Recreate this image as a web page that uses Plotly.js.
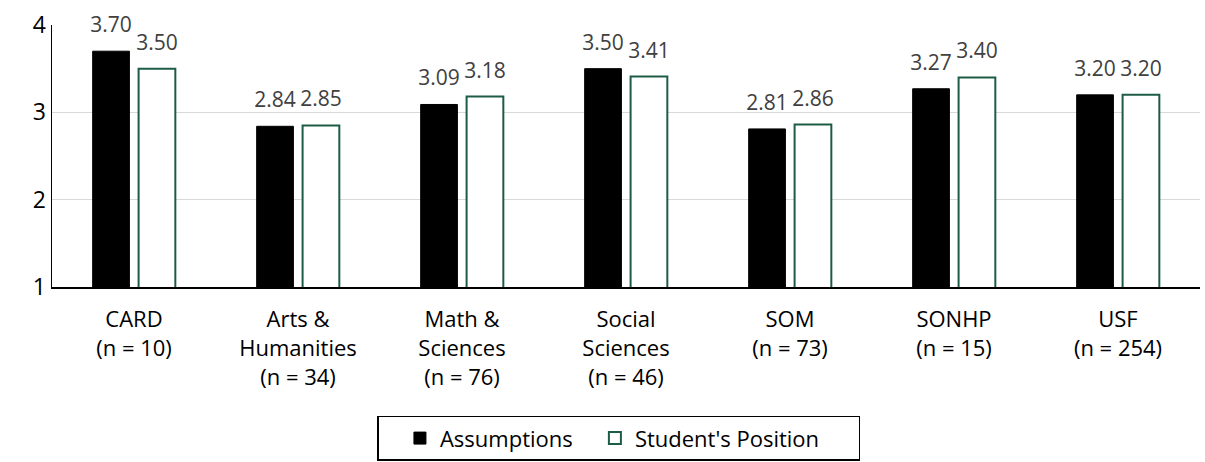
<!DOCTYPE html>
<html><head><meta charset="utf-8">
<script src="https://cdn.plot.ly/plotly-3.0.1.min.js"></script>
<style>body{margin:0;padding:0;background:#fff}#chart{width:1205px;height:462px}</style>
</head><body><div id="chart"></div>
<script>
const categories = ["CARD<br>(n = 10)", "Arts &<br>Humanities<br>(n = 34)", "Math &<br>Sciences<br>(n = 76)", "Social<br>Sciences<br>(n = 46)", "SOM<br>(n = 73)", "SONHP<br>(n = 15)", "USF<br>(n = 254)"];
const assumptions = [3.70, 2.84, 3.09, 3.50, 2.81, 3.27, 3.20];
const studentsPosition = [3.50, 2.85, 3.18, 3.41, 2.86, 3.40, 3.20];
const seriesNames = ["Assumptions", "Student's Position"];
const yTicks = [1, 2, 3, 4];

const font = "'Open Sans', Lato, sans-serif";
const green = '#1d5c44';
const sp = '<span style="font-size:56px">\u00a0</span>';
const lab = v => sp + v.toFixed(2) + sp;
const nb = n => '\u00a0'.repeat(n);
const data = [
  {type:'bar', name:seriesNames[0] + nb(3), x:categories, y:assumptions,
   marker:{color:'#000000', line:{color:'#000000', width:1}},
   text:assumptions.map(lab), textposition:'outside', cliponaxis:false, constraintext:'none',
   textfont:{size:21, color:'#404040', family:font}},
  {type:'bar', name:seriesNames[1] + nb(6), x:categories, y:studentsPosition,
   marker:{color:'#ffffff', line:{color:green, width:2}},
   text:studentsPosition.map(lab), textposition:'outside', cliponaxis:false, constraintext:'none',
   textfont:{size:21, color:'#404040', family:font}}
];
const layout = {
  width:1205, height:462,
  margin:{l:52, r:5, t:25, b:175},
  paper_bgcolor:'#fff', plot_bgcolor:'#fff',
  font:{family:font, color:'#000', size:21},
  barmode:'group', bargap:0.44, bargroupgap:0.2,
  xaxis:{tickfont:{size:22, color:'#000'}, showline:true, linecolor:'#000', linewidth:2, ticks:'', fixedrange:true, automargin:false, ticklabelstandoff:12},
  yaxis:{range:[1,4], tickvals:yTicks, ticktext:yTicks.map(String), tickfont:{size:23, color:'#000'},
    showgrid:true, gridcolor:'#d9d9d9', gridwidth:1.5, showline:true, linecolor:'#000', linewidth:1.5,
    zeroline:false, ticks:'', ticklen:0, automargin:false},
  showlegend:true,
  legend:{orientation:'h', xref:'container', x:377/1205, xanchor:'left', yref:'container', y:0.1, yanchor:'top',
    bordercolor:'#000', borderwidth:1.5, font:{size:22, color:'#000'}, itemwidth:30,
    title:{text:nb(2), side:'left', font:{size:22}},
    traceorder:'normal'}
};
Plotly.newPlot('chart', data, layout, {displayModeBar:false, staticPlot:true});
</script></body></html>
